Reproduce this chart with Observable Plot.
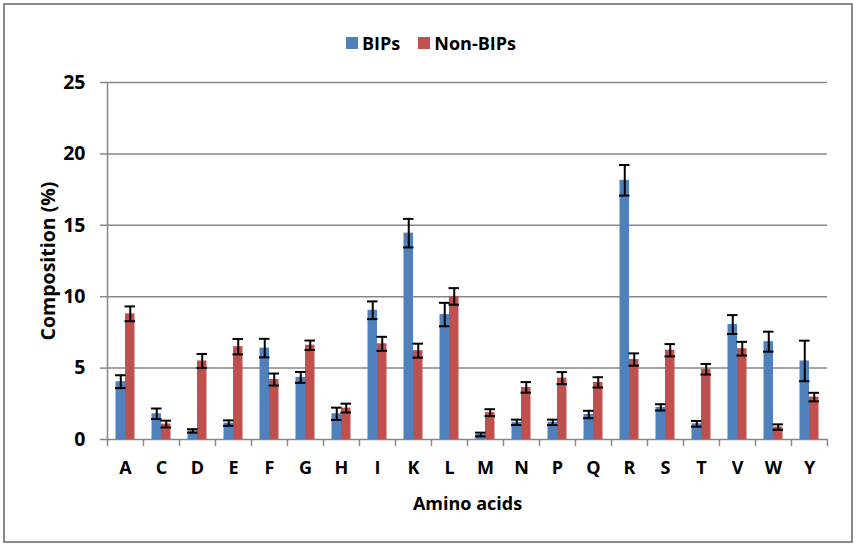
<!DOCTYPE html>
<html>
<head>
<meta charset="utf-8">
<script src="https://cdn.jsdelivr.net/npm/d3@7"></script>
<script src="https://cdn.jsdelivr.net/npm/@observablehq/plot@0.6"></script>
<style>
  html, body { margin: 0; padding: 0; background: #fff; }
  #wrap { position: relative; width: 856px; height: 546px; overflow: hidden; font-family: "Open Sans", "DejaVu Sans", sans-serif; }
  #border { position: absolute; left: 3px; top: 3px; width: 850px; height: 540px; box-sizing: border-box; border: 2px solid #8a8a8a; pointer-events: none; }
  #legend { height: 60px; box-sizing: border-box; padding-top: 26px; display: flex; justify-content: center; padding-left: 6px; font-weight: bold; font-size: 18px; line-height: 22px; color: #000; }
  .item { display: flex; align-items: center; margin: 0 9px; }
  .sw { width: 12px; height: 12px; margin-right: 4px; }
  svg { display: block; }
</style>
</head>
<body>
<div id="wrap">
  <div id="legend"></div>
  <div id="chart"></div>
  <div id="border"></div>
</div>
<script>
const categories = ["A","C","D","E","F","G","H","I","K","L","M","N","P","Q","R","S","T","V","W","Y"];
const seriesNames = ["BIPs", "Non-BIPs"];
const seriesColors = ["#4F81BD", "#C0504D"];
const bips      = [4.05, 1.8, 0.6, 1.15, 6.4, 4.35, 1.8, 9.05, 14.45, 8.75, 0.35, 1.2, 1.2, 1.75, 18.15, 2.25, 1.1, 8.05, 6.85, 5.5];
const bipsErr   = [0.45, 0.37, 0.12, 0.19, 0.65, 0.38, 0.43, 0.62, 1.0, 0.82, 0.13, 0.19, 0.19, 0.26, 1.07, 0.22, 0.2, 0.66, 0.7, 1.42];
const nonBips   = [8.8, 1.08, 5.5, 6.5, 4.2, 6.6, 2.2, 6.7, 6.22, 10.02, 1.88, 3.65, 4.3, 4.0, 5.6, 6.25, 4.92, 6.36, 0.87, 2.97];
const nonBipsErr= [0.52, 0.24, 0.49, 0.54, 0.42, 0.33, 0.31, 0.49, 0.49, 0.58, 0.24, 0.37, 0.42, 0.36, 0.43, 0.43, 0.37, 0.48, 0.19, 0.3];
const yTicks = [0, 5, 10, 15, 20, 25];

const rowsB = categories.map((c, i) => ({cat: c, value: bips[i], err: bipsErr[i]}));
const rowsN = categories.map((c, i) => ({cat: c, value: nonBips[i], err: nonBipsErr[i]}));

// legend
const legend = document.getElementById("legend");
seriesNames.forEach((s, i) => {
  const it = document.createElement("div");
  it.className = "item";
  const sw = document.createElement("span");
  sw.className = "sw";
  sw.style.background = seriesColors[i];
  const tx = document.createElement("span");
  tx.textContent = s;
  it.appendChild(sw); it.appendChild(tx);
  legend.appendChild(it);
});

const gray = "#868686";
const half = 18;
const chart = Plot.plot({
  width: 856,
  height: 486,
  marginLeft: 107,
  marginRight: 29,
  marginTop: 22,
  marginBottom: 107,
  style: {fontFamily: "'Open Sans', 'DejaVu Sans', sans-serif", fontWeight: "bold", fontSize: "18px", color: "#000", background: "transparent"},
  x: {domain: categories, padding: 0, label: null},
  y: {domain: [0, 25], ticks: yTicks, label: null},
  marks: [
    Plot.ruleY(yTicks, {stroke: gray, strokeWidth: 1.5}),
    Plot.barY(rowsB, {x: "cat", y: "value", fill: seriesColors[0], insetLeft: 8.5, insetRight: 18}),
    Plot.barY(rowsN, {x: "cat", y: "value", fill: seriesColors[1], insetLeft: 18, insetRight: 8.5}),
    Plot.ruleX(rowsB, {x: "cat", y1: d => d.value - d.err, y2: d => d.value + d.err, dx: -4.75, stroke: "#000", strokeWidth: 2}),
    Plot.ruleX(rowsN, {x: "cat", y1: d => d.value - d.err, y2: d => d.value + d.err, dx: 4.75, stroke: "#000", strokeWidth: 2}),
    Plot.tickY(rowsB, {x: "cat", y: d => d.value + d.err, insetLeft: 8, insetRight: 17.5, stroke: "#000", strokeWidth: 2}),
    Plot.tickY(rowsB, {x: "cat", y: d => d.value - d.err, insetLeft: 8, insetRight: 17.5, stroke: "#000", strokeWidth: 2}),
    Plot.tickY(rowsN, {x: "cat", y: d => d.value + d.err, insetLeft: 17.5, insetRight: 8, stroke: "#000", strokeWidth: 2}),
    Plot.tickY(rowsN, {x: "cat", y: d => d.value - d.err, insetLeft: 17.5, insetRight: 8, stroke: "#000", strokeWidth: 2}),
    // category boundary ticks below x axis
    Plot.ruleX(categories.slice(1), {x: d => d, dx: -half, y1: 0, y2: 0, insetTop: 7, stroke: gray, strokeWidth: 1.5}),
    Plot.ruleX(categories.slice(-1), {x: d => d, dx: half, y1: 0, y2: 0, insetTop: 7, stroke: gray, strokeWidth: 1.5}),
    // y axis line
    Plot.ruleX(categories.slice(0, 1), {x: d => d, dx: -half, insetBottom: -7, stroke: gray, strokeWidth: 1.5}),
    Plot.axisY({ticks: yTicks, tickSize: 7, tickPadding: 15, stroke: gray, strokeWidth: 1.5, fill: "#000", fontSize: 19.5, fontWeight: "bold",
      label: "Composition (%)", labelAnchor: "center", labelOffset: 66, labelArrow: false}),
    Plot.axisX({tickSize: 0, tickPadding: 22, fill: "#000", fontSize: 18, fontWeight: "bold",
      label: "Amino acids", labelAnchor: "center", labelOffset: 70, labelArrow: false})
  ]
});
document.getElementById("chart").appendChild(chart);
</script>
</body>
</html>
